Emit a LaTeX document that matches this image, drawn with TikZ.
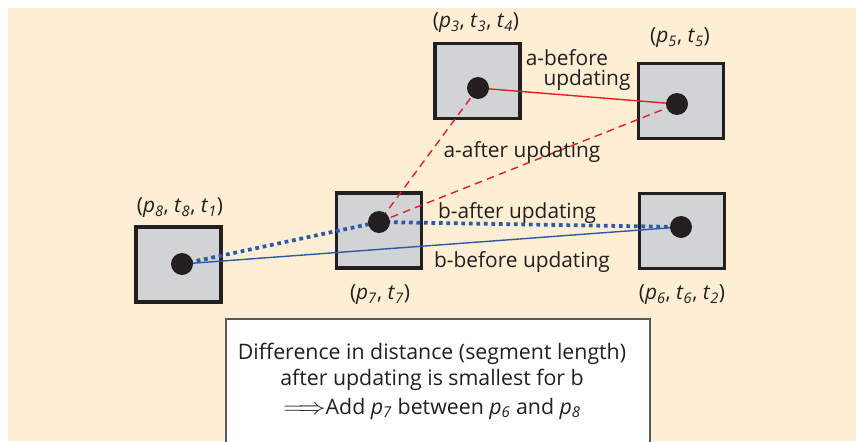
\documentclass[tikz,border=0pt]{standalone}
\usepackage{fontspec}
\setmainfont{Open Sans}
\usepackage{xcolor}
\usepackage{tikz}

\definecolor{cream}{RGB}{254,239,212}
\definecolor{boxgray}{RGB}{209,211,212}
\definecolor{ink}{RGB}{35,31,32}
\definecolor{linered}{RGB}{237,28,36}
\definecolor{lineblue}{RGB}{46,88,170}

\newcommand{\pv}[1]{\textit{p}\textsubscript{\textit{#1}}}
\newcommand{\tv}[1]{\textit{t}\textsubscript{\textit{#1}}}

\begin{document}
\begin{tikzpicture}[x=0.03cm, y=-0.03cm,
    every node/.style={font=\fontsize{17.8}{21.6}\selectfont, text=ink},
    sqbox/.style={draw=ink, line width=2.6pt, fill=boxgray, minimum width=2.55cm, minimum height=2.25cm},
    dot/.style={circle, fill=ink, minimum size=0.66cm, inner sep=0pt},
    redline/.style={draw=linered, line width=1.2pt},
    reddash/.style={draw=linered, line width=1.2pt, dash pattern=on 6.5pt off 4.5pt},
    bluedots/.style={draw=lineblue, line width=3.2pt, dash pattern=on 3.2pt off 3.2pt},
    blueline/.style={draw=lineblue, line width=1.2pt}]
    \useasboundingbox (0,0) rectangle (856,441);

    % Background
    \fill[cream] (8,8) rectangle (856,441);

    % Squares
    \node[sqbox] (s8) at (178.5,264.5) {};
    \node[sqbox] (s7) at (379,230.5) {};
    \node[sqbox] (s3) at (477.5,81) {};
    \node[sqbox] (s5) at (681,101) {};
    \node[sqbox] (s6) at (682,231) {};

    % Points
    \coordinate (c8) at (182,264);
    \coordinate (c7) at (379,222);
    \coordinate (c3) at (478,88);
    \coordinate (c5) at (677,104);
    \coordinate (c6) at (681,227);

    % Segments a
    \draw[redline] (c3) -- (c5);
    \draw[reddash] (c3) -- (c7);
    \draw[reddash] (c7) -- (c5);

    % Segments b
    \draw[blueline] (c8) -- (c6);
    \draw[bluedots] (c8) -- (c7);
    \draw[bluedots] (c7) -- (c6);

    \foreach \c in {c8,c7,c3,c5,c6}
        \node[dot] at (\c) {};

    % Point labels
    \node (l3) at (476,23) {(\pv{3}, \tv{3}, \tv{4})};
    \node (l5) at (680,38) {(\pv{5}, \tv{5})};
    \node (l8) at (180,208) {(\pv{8}, \tv{8}, \tv{1})};
    \node (l7) at (380,295) {(\pv{7}, \tv{7})};
    \node (l6) at (682,295) {(\pv{6}, \tv{6}, \tv{2})};

    % Segment labels
    \node (abefore) at (567,58) {a-before};
    \node (aupd) at (587,80) {updating};
    \node (aafter) at (522,152) {a-after updating};
    \node (bafter) at (517,213) {b-after updating};
    \node (bbefore) at (522,262) {b-before updating};

    % Note
    \draw[draw=ink!75, line width=1pt, fill=white] (226,450) |- (650,319) -- (650,450);
    \node[align=center, font=\fontsize{18.2}{22.5}\selectfont] (note) at (432,381) {Difference in distance (segment length)\\
        after updating is smallest for b\\[2pt]
        \scalebox{1.35}[1.15]{$\Longrightarrow$}Add \pv{7} between \pv{6} and \pv{8}};
\end{tikzpicture}
\end{document}
